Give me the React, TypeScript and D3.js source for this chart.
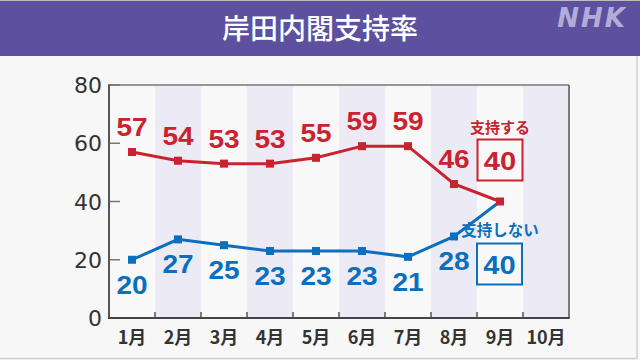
import React from "react";
import * as d3 from "d3";

const months = ["1月", "2月", "3月", "4月", "5月", "6月", "7月", "8月", "9月", "10月"];
const support = [57, 54, 53, 53, 55, 59, 59, 46, 40];
const notSupport = [20, 27, 25, 23, 23, 23, 21, 28, 40];
const yTicks = [0, 20, 40, 60, 80];
const title = "岸田内閣支持率";
const supportLabel = "支持する";
const notSupportLabel = "支持しない";

const RED = "#c8232e";
const BLUE = "#0b6fbf";
const NUM_FONT = "'DejaVu Sans', sans-serif";
const LBL_FONT = "'Liberation Sans', Arial, sans-serif";
const JP_FONT = "'Noto Sans CJK JP', sans-serif";

function Num({ x, y, fill, size, children }: { x: number; y: number; fill: string; size: number; children: React.ReactNode }) {
  return (
    <text transform={`translate(${x},${y}) scale(1.12,1)`} textAnchor="middle" fill={fill} fontFamily={LBL_FONT} fontSize={size} fontWeight="bold">
      {children}
    </text>
  );
}

export default function App() {
  const W = 640, H = 360;
  const left = 109, right = 569, top = 85, bottom = 318;
  const x = d3.scaleBand<string>().domain(months).range([left, right]).padding(0);
  const y = d3.scaleLinear().domain([0, 80]).range([bottom, top]);
  const cx = (i: number) => (x(months[i]) as number) + x.bandwidth() / 2;
  const line = d3.line<number>().x((_, i) => cx(i)).y((d) => y(d));
  const last = support.length - 1;

  return (
    <svg width={W} height={H} style={{ position: "absolute", left: 0, top: 0 }}>
      <rect x={0} y={0} width={W} height={H} fill="#f7f7f7" />
      <line x1={637} y1={0} x2={637} y2={358.5} stroke="#cfcfcf" strokeWidth={1.5} />
      <line x1={0} y1={358.5} x2={637} y2={358.5} stroke="#cfcfcf" strokeWidth={1.5} />
      <rect x={0} y={0} width={W} height={56} fill="#5d519f" />
      <line x1={0} y1={0.5} x2={W} y2={0.5} stroke="#bdbdbd" strokeWidth={1} />
      <text x={320} y={38.5} textAnchor="middle" fill="#ffffff" fontFamily={JP_FONT} fontSize={28} fontWeight={500}>{title}</text>
      <text x={592} y={27} textAnchor="middle" fill="#b2acd9" fontFamily="'DejaVu Sans', sans-serif" fontSize={26} fontWeight="bold" fontStyle="italic" letterSpacing={2}>NHK</text>

      {months.map((m, i) => (
        <rect key={m} x={x(m)} y={top} width={x.bandwidth()} height={bottom - top} fill={i % 2 === 1 ? "#ecebf5" : "#f8f8f9"} />
      ))}
      <line x1={left} y1={top} x2={right} y2={top} stroke="#777" strokeWidth={1.5} />
      <line x1={right} y1={top} x2={right} y2={bottom} stroke="#555" strokeWidth={1.5} />
      {yTicks.map((t) => (
        <g key={t}>
          <line x1={left} x2={left + 11} y1={y(t)} y2={y(t)} stroke="#777" strokeWidth={1.5} />
          <text x={102} y={y(t) + 8} textAnchor="end" fill="#333" fontFamily={NUM_FONT} fontSize={22}>{t}</text>
        </g>
      ))}
      {months.slice(1).map((m) => (
        <line key={m} x1={x(m)} x2={x(m)} y1={bottom} y2={bottom - 6} stroke="#555" strokeWidth={1.5} />
      ))}
      <line x1={left} y1={top - 0.75} x2={left} y2={bottom + 1} stroke="#555" strokeWidth={2} />
      <line x1={left - 1} y1={bottom} x2={right + 0.75} y2={bottom} stroke="#444" strokeWidth={2} />
      {months.map((m, i) => (
        <text key={m} x={cx(i)} y={344} textAnchor="middle" fill="#333" fontFamily={JP_FONT} fontSize={18} fontWeight="bold">{m}</text>
      ))}

      <path d={line(notSupport) as string} fill="none" stroke={BLUE} strokeWidth={3} />
      {notSupport.slice(0, last).map((v, i) => (
        <rect key={i} x={cx(i) - 4} y={y(v) - 4} width={8} height={8} fill={BLUE} />
      ))}
      <path d={line(support) as string} fill="none" stroke={RED} strokeWidth={3} />
      {support.map((v, i) => (
        <rect key={i} x={cx(i) - 4} y={y(v) - 4} width={8} height={8} fill={RED} />
      ))}

      {support.slice(0, last).map((v, i) => (
        <Num key={i} x={cx(i)} y={y(v) - 25 + 9} fill={RED} size={25}>{v}</Num>
      ))}
      {notSupport.slice(0, last).map((v, i) => (
        <Num key={i} x={cx(i)} y={y(v) + 25 + 9} fill={BLUE} size={25}>{v}</Num>
      ))}

      <text x={cx(last)} y={133} textAnchor="middle" fill={RED} fontFamily={JP_FONT} fontSize={15} fontWeight="bold">{supportLabel}</text>
      <rect x={cx(last) - 22.5} y={139.5} width={45} height={41} fill="none" stroke={RED} strokeWidth={2} />
      <Num x={cx(last)} y={169.5} fill={RED} size={26}>{support[last]}</Num>

      <text x={cx(last)} y={236} textAnchor="middle" fill={BLUE} fontFamily={JP_FONT} fontSize={15.5} fontWeight="bold">{notSupportLabel}</text>
      <rect x={cx(last) - 23} y={243.5} width={45} height={41} fill="none" stroke={BLUE} strokeWidth={2} />
      <Num x={cx(last) - 0.5} y={273.5} fill={BLUE} size={26}>{notSupport[last]}</Num>
    </svg>
  );
}
